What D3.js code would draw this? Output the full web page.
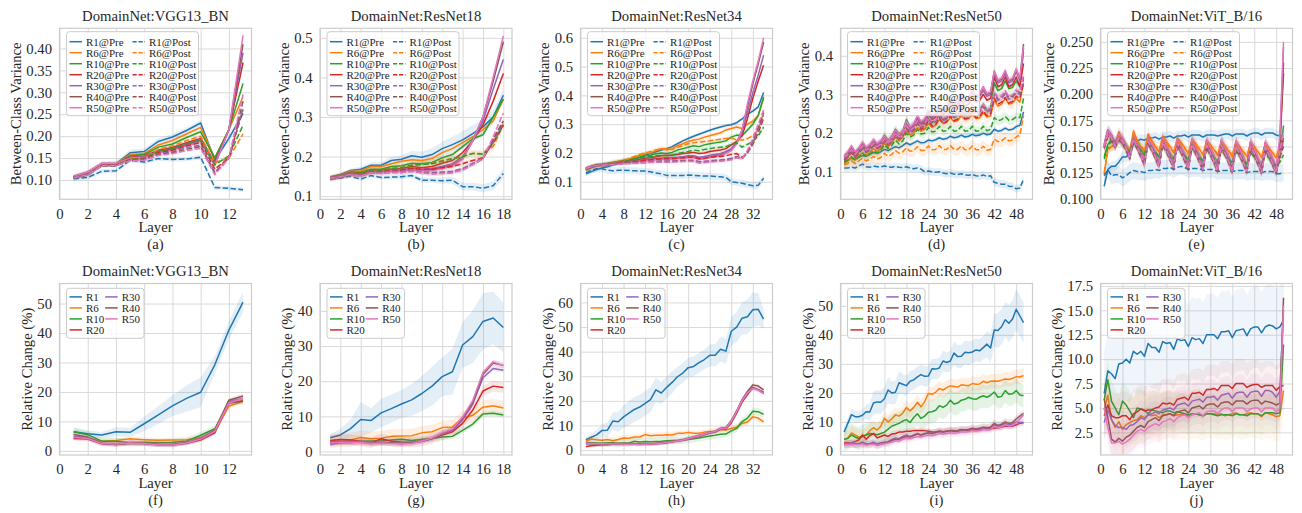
<!DOCTYPE html>
<html><head><meta charset="utf-8">
<script src="https://cdn.jsdelivr.net/npm/d3@7"></script>
<style>
body{margin:0;background:#fff}
svg{display:block}
</style>
</head><body>
<svg id="chart" width="1302" height="513"></svg>
<script>
// ---------- labels ----------
const rates = ["R1","R6","R10","R20","R30","R40","R50"];
const colors = ["#1f77b4","#ff7f0e","#2ca02c","#d62728","#9467bd","#8c564b","#e377c2"];
const models = ["VGG13_BN","ResNet18","ResNet34","ResNet50","ViT_B/16"];
const layerCounts = [13,18,34,50,50];
const subLetters = ["a","b","c","d","e","f","g","h","i","j"];
const topYLabel = "Between-Class Variance";
const botYLabel = "Relative Change (%)";
const xLabel = "Layer";

// ---------- axis ticks / limits ----------
const xTicks = [[0,2,4,6,8,10,12],[0,2,4,6,8,10,12,14,16,18],[0,4,8,12,16,20,24,28,32],[0,6,12,18,24,30,36,42,48],[0,6,12,18,24,30,36,42,48]];
const topYLim = [[0.056,0.446],[0.092,0.524],[0.039,0.633],[0.029,0.471],[0.0995,0.263]];
const topYTicks = [[0.10,0.15,0.20,0.25,0.30,0.35,0.40],[0.1,0.2,0.3,0.4,0.5],[0.1,0.2,0.3,0.4,0.5,0.6],[0.1,0.2,0.3,0.4],[0.100,0.125,0.150,0.175,0.200,0.225,0.250]];
const topYFmt = [".2f",".1f",".1f",".1f",".3f"];
const botYLim = [[-1.4,56.8],[-1.0,47.8],[-2.0,67.7],[-1.4,57.7],[0.18,17.75]];
const botYTicks = [[0,10,20,30,40,50],[0,10,20,30,40],[0,10,20,30,40,50,60],[0,10,20,30,40,50],[2.5,5.0,7.5,10.0,12.5,15.0,17.5]];
const botYFmt = ["d","d","d","d",".1f"];

// ---------- (a) VGG13_BN between-class variance ----------
const vggPre = [
[0.105,0.115,0.135,0.137,0.162,0.165,0.188,0.198,0.213,0.230,0.145,0.195,0.252],
[0.107,0.117,0.137,0.137,0.158,0.160,0.180,0.190,0.205,0.220,0.150,0.215,0.290],
[0.107,0.115,0.135,0.135,0.155,0.158,0.175,0.182,0.197,0.210,0.150,0.215,0.320],
[0.107,0.116,0.136,0.136,0.152,0.155,0.168,0.174,0.185,0.195,0.140,0.215,0.368],
[0.108,0.117,0.137,0.137,0.150,0.153,0.165,0.172,0.182,0.192,0.138,0.215,0.390],
[0.108,0.118,0.137,0.137,0.150,0.152,0.165,0.170,0.180,0.190,0.135,0.215,0.410],
[0.108,0.118,0.138,0.138,0.150,0.152,0.163,0.168,0.178,0.188,0.133,0.215,0.430]];
const vggPost = [
[0.103,0.106,0.120,0.121,0.145,0.141,0.149,0.147,0.148,0.152,0.083,0.081,0.078],
[0.105,0.112,0.133,0.133,0.148,0.150,0.170,0.178,0.190,0.200,0.140,0.150,0.205],
[0.105,0.112,0.133,0.133,0.147,0.150,0.165,0.172,0.183,0.190,0.135,0.155,0.225],
[0.105,0.112,0.133,0.133,0.146,0.148,0.162,0.168,0.178,0.185,0.125,0.150,0.260],
[0.105,0.112,0.133,0.133,0.145,0.147,0.160,0.164,0.174,0.180,0.118,0.150,0.265],
[0.105,0.112,0.133,0.133,0.145,0.146,0.158,0.162,0.170,0.176,0.115,0.150,0.280],
[0.105,0.112,0.133,0.133,0.144,0.145,0.156,0.160,0.167,0.172,0.112,0.150,0.295]];
const vggPreBand = [0.007,0.004,0.004,0.004,0.004,0.004,0.005];
const vggPostBand = [0.005,0.003,0.003,0.003,0.003,0.003,0.003];

// ---------- (b) ResNet18 ----------
const r18Pre = [
[0.148,0.155,0.165,0.168,0.178,0.178,0.190,0.193,0.202,0.198,0.205,0.220,0.230,0.242,0.258,0.275,0.300,0.355],
[0.147,0.153,0.163,0.163,0.175,0.175,0.182,0.188,0.192,0.190,0.195,0.210,0.220,0.235,0.250,0.268,0.290,0.345],
[0.146,0.152,0.160,0.160,0.168,0.168,0.175,0.177,0.183,0.182,0.185,0.197,0.205,0.225,0.245,0.255,0.300,0.345],
[0.146,0.150,0.158,0.157,0.165,0.165,0.168,0.170,0.175,0.172,0.175,0.183,0.190,0.210,0.240,0.280,0.340,0.410],
[0.145,0.150,0.157,0.155,0.163,0.163,0.166,0.167,0.170,0.168,0.170,0.175,0.182,0.200,0.240,0.290,0.370,0.445],
[0.145,0.150,0.156,0.154,0.162,0.162,0.165,0.165,0.168,0.166,0.167,0.172,0.178,0.195,0.240,0.300,0.390,0.490],
[0.145,0.150,0.156,0.153,0.162,0.162,0.164,0.164,0.167,0.165,0.165,0.170,0.176,0.193,0.240,0.300,0.400,0.505]];
const r18Post = [
[0.143,0.146,0.150,0.143,0.152,0.147,0.148,0.149,0.152,0.140,0.140,0.139,0.140,0.124,0.124,0.120,0.126,0.157],
[0.145,0.150,0.158,0.157,0.165,0.164,0.170,0.172,0.178,0.180,0.183,0.190,0.195,0.200,0.208,0.207,0.225,0.280],
[0.145,0.150,0.158,0.157,0.165,0.164,0.170,0.172,0.178,0.180,0.182,0.188,0.195,0.200,0.208,0.206,0.235,0.280],
[0.145,0.149,0.156,0.154,0.162,0.161,0.165,0.166,0.170,0.168,0.168,0.172,0.175,0.182,0.190,0.197,0.235,0.280],
[0.145,0.149,0.155,0.152,0.160,0.159,0.162,0.162,0.165,0.161,0.160,0.161,0.163,0.170,0.183,0.195,0.240,0.285],
[0.145,0.149,0.155,0.151,0.159,0.158,0.160,0.160,0.163,0.159,0.157,0.158,0.160,0.167,0.180,0.195,0.245,0.290],
[0.145,0.149,0.155,0.151,0.159,0.158,0.160,0.160,0.163,0.159,0.156,0.157,0.159,0.166,0.180,0.195,0.250,0.310]];
const r18PreBand = [[0.004,0.004,0.005,0.006,0.007,0.008,0.009,0.010,0.012,0.014,0.016,0.018,0.020,0.022,0.022,0.020,0.018,0.015],0.005,0.006,0.005,0.005,0.006,0.006];
const r18PostBand = [[0.004,0.004,0.004,0.005,0.005,0.005,0.006,0.006,0.006,0.007,0.007,0.008,0.009,0.010,0.010,0.010,0.011,0.012],0.010,0.006,0.006,0.005,0.005,0.006];

// ---------- (c) ResNet34 ----------
const r34Pre = [
[0.128,0.135,0.142,0.148,0.152,0.158,0.163,0.168,0.172,0.178,0.185,0.192,0.198,0.204,0.210,0.215,0.222,0.232,0.242,0.250,0.258,0.265,0.272,0.279,0.285,0.290,0.295,0.298,0.305,0.318,0.335,0.345,0.360,0.410],
[0.140,0.148,0.155,0.158,0.162,0.165,0.170,0.175,0.178,0.185,0.192,0.198,0.200,0.208,0.215,0.210,0.215,0.225,0.232,0.240,0.245,0.248,0.255,0.260,0.265,0.270,0.280,0.285,0.290,0.285,0.300,0.310,0.330,0.390],
[0.143,0.152,0.158,0.160,0.163,0.167,0.170,0.173,0.176,0.180,0.185,0.190,0.192,0.197,0.200,0.198,0.202,0.210,0.215,0.220,0.225,0.222,0.228,0.232,0.235,0.238,0.242,0.255,0.262,0.260,0.280,0.300,0.330,0.395],
[0.145,0.153,0.158,0.160,0.162,0.165,0.168,0.170,0.172,0.175,0.178,0.182,0.183,0.187,0.190,0.192,0.192,0.195,0.198,0.200,0.202,0.198,0.200,0.205,0.208,0.210,0.215,0.228,0.240,0.260,0.320,0.390,0.450,0.505],
[0.146,0.153,0.157,0.159,0.161,0.164,0.166,0.168,0.170,0.172,0.174,0.177,0.178,0.180,0.182,0.184,0.184,0.185,0.187,0.190,0.190,0.185,0.188,0.192,0.195,0.198,0.205,0.215,0.235,0.270,0.340,0.410,0.470,0.540],
[0.147,0.153,0.157,0.159,0.161,0.163,0.165,0.167,0.169,0.171,0.173,0.175,0.176,0.178,0.180,0.181,0.181,0.182,0.183,0.185,0.185,0.180,0.182,0.186,0.190,0.193,0.200,0.210,0.235,0.280,0.360,0.440,0.510,0.585],
[0.147,0.153,0.157,0.159,0.161,0.163,0.165,0.167,0.169,0.170,0.172,0.174,0.175,0.177,0.178,0.179,0.180,0.181,0.182,0.183,0.183,0.178,0.180,0.184,0.188,0.190,0.198,0.208,0.232,0.280,0.370,0.450,0.520,0.600]];
const r34Post = [
[0.130,0.140,0.145,0.145,0.140,0.138,0.140,0.140,0.139,0.138,0.137,0.137,0.135,0.130,0.128,0.122,0.122,0.122,0.122,0.123,0.122,0.121,0.120,0.120,0.118,0.117,0.115,0.100,0.097,0.095,0.090,0.086,0.088,0.112],
[0.140,0.148,0.155,0.158,0.162,0.165,0.170,0.175,0.180,0.188,0.195,0.200,0.205,0.210,0.215,0.215,0.212,0.220,0.225,0.232,0.235,0.238,0.240,0.242,0.245,0.248,0.250,0.252,0.245,0.245,0.250,0.260,0.280,0.340],
[0.142,0.150,0.156,0.158,0.160,0.164,0.167,0.170,0.173,0.177,0.182,0.186,0.188,0.190,0.192,0.190,0.192,0.198,0.202,0.205,0.210,0.208,0.212,0.215,0.218,0.220,0.222,0.230,0.235,0.220,0.230,0.240,0.260,0.290],
[0.145,0.152,0.157,0.158,0.160,0.162,0.165,0.167,0.168,0.170,0.172,0.175,0.176,0.178,0.180,0.180,0.180,0.182,0.183,0.185,0.186,0.180,0.182,0.185,0.187,0.188,0.190,0.195,0.198,0.185,0.200,0.230,0.270,0.320],
[0.146,0.152,0.156,0.157,0.159,0.161,0.163,0.164,0.165,0.166,0.167,0.169,0.170,0.171,0.172,0.172,0.172,0.173,0.174,0.175,0.175,0.170,0.171,0.173,0.175,0.176,0.178,0.182,0.188,0.180,0.200,0.235,0.280,0.330],
[0.146,0.152,0.156,0.157,0.159,0.160,0.162,0.163,0.164,0.165,0.166,0.167,0.168,0.169,0.170,0.170,0.170,0.171,0.172,0.173,0.172,0.167,0.168,0.170,0.172,0.173,0.175,0.178,0.185,0.180,0.205,0.245,0.290,0.340],
[0.146,0.152,0.156,0.157,0.159,0.160,0.161,0.162,0.163,0.164,0.165,0.166,0.167,0.168,0.168,0.168,0.168,0.169,0.170,0.171,0.170,0.165,0.166,0.168,0.170,0.171,0.173,0.176,0.183,0.180,0.210,0.250,0.300,0.350]];
const r34PreBand = [0.006,0.008,0.009,0.006,0.006,0.006,0.008];
const r34PostBand = [0.012,0.006,0.008,0.005,0.005,0.005,0.006];

// ---------- (d) ResNet50 ----------
const r50Pre = [
[0.125,0.130,0.135,0.132,0.138,0.142,0.140,0.145,0.150,0.148,0.152,0.158,0.155,0.160,0.165,0.162,0.168,0.175,0.170,0.175,0.180,0.175,0.176,0.182,0.180,0.183,0.188,0.184,0.186,0.192,0.188,0.190,0.195,0.190,0.192,0.197,0.193,0.195,0.200,0.196,0.198,0.210,0.205,0.207,0.213,0.208,0.210,0.217,0.220,0.255],
[0.120,0.128,0.138,0.130,0.140,0.150,0.142,0.150,0.160,0.152,0.160,0.175,0.165,0.175,0.190,0.180,0.190,0.205,0.195,0.200,0.215,0.205,0.210,0.225,0.215,0.220,0.235,0.225,0.228,0.240,0.230,0.232,0.245,0.235,0.237,0.248,0.238,0.240,0.252,0.242,0.245,0.285,0.270,0.275,0.290,0.275,0.278,0.290,0.280,0.330],
[0.130,0.140,0.152,0.140,0.152,0.165,0.155,0.162,0.175,0.165,0.175,0.195,0.182,0.190,0.210,0.198,0.205,0.235,0.215,0.220,0.238,0.222,0.225,0.242,0.228,0.232,0.250,0.235,0.240,0.260,0.245,0.248,0.265,0.250,0.252,0.270,0.255,0.258,0.275,0.260,0.262,0.330,0.310,0.315,0.335,0.315,0.318,0.335,0.320,0.420],
[0.135,0.145,0.158,0.145,0.155,0.170,0.158,0.165,0.178,0.168,0.175,0.190,0.178,0.187,0.205,0.192,0.200,0.225,0.210,0.218,0.238,0.222,0.228,0.250,0.235,0.242,0.262,0.248,0.255,0.275,0.260,0.265,0.285,0.270,0.275,0.295,0.280,0.285,0.300,0.285,0.290,0.345,0.320,0.325,0.345,0.320,0.325,0.345,0.320,0.380],
[0.138,0.148,0.162,0.148,0.158,0.172,0.160,0.167,0.180,0.170,0.177,0.190,0.178,0.188,0.205,0.193,0.202,0.225,0.212,0.220,0.240,0.225,0.232,0.255,0.240,0.248,0.270,0.255,0.262,0.285,0.270,0.275,0.295,0.280,0.285,0.305,0.290,0.295,0.310,0.295,0.300,0.355,0.330,0.335,0.355,0.330,0.335,0.360,0.335,0.410],
[0.140,0.150,0.165,0.150,0.160,0.175,0.162,0.168,0.182,0.172,0.178,0.192,0.180,0.190,0.207,0.195,0.204,0.228,0.215,0.222,0.243,0.228,0.235,0.258,0.243,0.250,0.273,0.258,0.265,0.290,0.273,0.278,0.300,0.285,0.290,0.310,0.295,0.300,0.318,0.300,0.305,0.360,0.335,0.340,0.360,0.335,0.340,0.365,0.340,0.430],
[0.142,0.152,0.167,0.152,0.162,0.177,0.163,0.170,0.183,0.173,0.180,0.193,0.180,0.190,0.208,0.196,0.205,0.230,0.216,0.224,0.245,0.230,0.237,0.260,0.245,0.252,0.275,0.260,0.267,0.292,0.275,0.280,0.302,0.287,0.292,0.312,0.297,0.302,0.320,0.302,0.307,0.360,0.337,0.342,0.362,0.337,0.342,0.365,0.342,0.425]];
const r50Post = [
[0.110,0.110,0.112,0.110,0.115,0.120,0.113,0.112,0.115,0.113,0.113,0.115,0.113,0.112,0.114,0.112,0.111,0.113,0.110,0.108,0.110,0.107,0.100,0.102,0.100,0.099,0.100,0.097,0.095,0.097,0.094,0.093,0.095,0.092,0.091,0.093,0.090,0.089,0.092,0.088,0.090,0.073,0.070,0.068,0.068,0.063,0.062,0.056,0.058,0.080],
[0.118,0.122,0.128,0.122,0.128,0.135,0.128,0.132,0.140,0.133,0.137,0.148,0.140,0.145,0.155,0.148,0.152,0.162,0.153,0.155,0.165,0.155,0.156,0.167,0.157,0.158,0.168,0.158,0.158,0.168,0.158,0.158,0.167,0.157,0.157,0.167,0.157,0.157,0.166,0.156,0.158,0.185,0.178,0.180,0.188,0.180,0.182,0.190,0.195,0.245],
[0.125,0.130,0.138,0.130,0.138,0.148,0.140,0.145,0.155,0.148,0.155,0.170,0.160,0.168,0.182,0.172,0.180,0.200,0.190,0.195,0.210,0.198,0.200,0.215,0.203,0.205,0.218,0.205,0.206,0.218,0.205,0.206,0.218,0.205,0.206,0.218,0.205,0.206,0.218,0.206,0.210,0.240,0.232,0.235,0.243,0.233,0.235,0.242,0.240,0.290],
[0.130,0.138,0.150,0.138,0.148,0.160,0.150,0.156,0.168,0.160,0.166,0.180,0.170,0.178,0.195,0.185,0.192,0.212,0.200,0.207,0.225,0.210,0.215,0.232,0.218,0.222,0.240,0.225,0.230,0.245,0.232,0.236,0.250,0.237,0.240,0.255,0.240,0.243,0.258,0.245,0.250,0.290,0.275,0.280,0.292,0.278,0.282,0.295,0.290,0.330],
[0.133,0.141,0.153,0.141,0.151,0.163,0.152,0.158,0.170,0.162,0.168,0.182,0.172,0.180,0.197,0.187,0.194,0.215,0.203,0.210,0.228,0.214,0.220,0.238,0.224,0.229,0.247,0.232,0.237,0.254,0.240,0.244,0.260,0.246,0.250,0.265,0.250,0.254,0.268,0.254,0.260,0.300,0.285,0.290,0.302,0.288,0.292,0.305,0.300,0.340],
[0.135,0.143,0.155,0.143,0.153,0.165,0.154,0.160,0.172,0.163,0.169,0.183,0.173,0.181,0.198,0.188,0.195,0.217,0.205,0.212,0.230,0.216,0.222,0.241,0.227,0.232,0.250,0.236,0.241,0.258,0.244,0.248,0.264,0.250,0.254,0.270,0.255,0.259,0.273,0.258,0.264,0.305,0.290,0.295,0.307,0.292,0.296,0.310,0.305,0.345],
[0.137,0.145,0.157,0.145,0.155,0.167,0.156,0.162,0.174,0.165,0.171,0.185,0.175,0.183,0.200,0.190,0.197,0.219,0.207,0.214,0.232,0.218,0.224,0.243,0.229,0.234,0.252,0.238,0.243,0.260,0.246,0.250,0.266,0.252,0.256,0.272,0.257,0.261,0.275,0.260,0.266,0.308,0.292,0.297,0.310,0.295,0.299,0.312,0.307,0.350]];
const r50PreBand = [0.006,0.014,0.012,0.008,0.008,0.008,0.009];
const r50PostBand = [0.010,0.016,0.012,0.008,0.008,0.008,0.008];

// ---------- (e) ViT_B/16 ----------
const vitPre = [
[0.112,0.128,0.131,0.131,0.135,0.140,0.140,0.143,0.152,0.155,0.157,0.156,0.158,0.158,0.159,0.157,0.159,0.159,0.160,0.158,0.160,0.160,0.161,0.159,0.161,0.161,0.161,0.159,0.161,0.161,0.161,0.160,0.161,0.162,0.162,0.160,0.162,0.162,0.162,0.160,0.162,0.163,0.163,0.161,0.163,0.163,0.163,0.161,0.160,0.160],
[0.123,0.148,0.150,0.152,0.164,0.156,0.150,0.145,0.165,0.156,0.150,0.145,0.162,0.156,0.150,0.145,0.160,0.155,0.150,0.144,0.158,0.154,0.149,0.143,0.157,0.153,0.148,0.142,0.156,0.152,0.147,0.141,0.155,0.151,0.146,0.140,0.155,0.150,0.145,0.140,0.154,0.150,0.145,0.139,0.153,0.149,0.144,0.139,0.145,0.155],
[0.140,0.152,0.157,0.155,0.158,0.155,0.150,0.146,0.158,0.152,0.147,0.142,0.155,0.150,0.145,0.140,0.153,0.148,0.143,0.138,0.152,0.147,0.142,0.137,0.151,0.146,0.141,0.136,0.150,0.145,0.140,0.135,0.149,0.144,0.139,0.134,0.148,0.143,0.138,0.133,0.147,0.142,0.137,0.132,0.146,0.141,0.136,0.131,0.140,0.170],
[0.150,0.163,0.160,0.153,0.160,0.157,0.150,0.142,0.159,0.152,0.144,0.136,0.157,0.151,0.143,0.135,0.157,0.150,0.142,0.134,0.156,0.149,0.141,0.133,0.156,0.149,0.140,0.132,0.155,0.148,0.140,0.131,0.155,0.148,0.139,0.130,0.154,0.147,0.139,0.130,0.154,0.147,0.138,0.129,0.153,0.146,0.138,0.128,0.150,0.220],
[0.152,0.166,0.161,0.153,0.161,0.158,0.151,0.143,0.160,0.153,0.145,0.137,0.158,0.152,0.144,0.136,0.158,0.151,0.143,0.135,0.157,0.150,0.142,0.134,0.157,0.150,0.141,0.133,0.156,0.149,0.141,0.132,0.156,0.149,0.140,0.131,0.155,0.148,0.140,0.131,0.155,0.148,0.139,0.130,0.154,0.147,0.139,0.129,0.155,0.245],
[0.151,0.165,0.160,0.152,0.160,0.157,0.150,0.142,0.159,0.152,0.144,0.136,0.157,0.151,0.143,0.135,0.157,0.150,0.142,0.134,0.156,0.149,0.141,0.133,0.156,0.149,0.140,0.132,0.155,0.148,0.140,0.131,0.155,0.148,0.139,0.130,0.154,0.147,0.139,0.130,0.154,0.147,0.138,0.129,0.153,0.146,0.138,0.128,0.152,0.230],
[0.152,0.165,0.160,0.152,0.162,0.158,0.150,0.142,0.160,0.152,0.145,0.137,0.158,0.152,0.145,0.136,0.158,0.151,0.144,0.135,0.157,0.150,0.143,0.134,0.157,0.150,0.142,0.133,0.156,0.149,0.141,0.132,0.156,0.149,0.141,0.132,0.155,0.148,0.140,0.131,0.155,0.148,0.140,0.131,0.154,0.147,0.139,0.130,0.160,0.250]];
const vitPost = [
[0.122,0.128,0.122,0.123,0.123,0.120,0.122,0.125,0.127,0.126,0.126,0.125,0.127,0.127,0.128,0.127,0.129,0.129,0.130,0.128,0.130,0.131,0.130,0.128,0.129,0.129,0.129,0.127,0.128,0.128,0.128,0.126,0.127,0.127,0.127,0.126,0.127,0.127,0.127,0.125,0.126,0.126,0.126,0.125,0.126,0.126,0.126,0.124,0.124,0.125],
[0.125,0.146,0.150,0.150,0.160,0.155,0.150,0.147,0.160,0.155,0.151,0.147,0.157,0.154,0.150,0.146,0.156,0.153,0.149,0.145,0.155,0.152,0.148,0.144,0.154,0.151,0.147,0.143,0.153,0.150,0.147,0.143,0.152,0.149,0.146,0.142,0.151,0.148,0.145,0.142,0.150,0.148,0.145,0.141,0.150,0.147,0.144,0.141,0.148,0.158],
[0.138,0.150,0.155,0.153,0.156,0.153,0.149,0.145,0.155,0.150,0.146,0.142,0.152,0.148,0.144,0.140,0.150,0.146,0.142,0.138,0.149,0.145,0.141,0.137,0.148,0.144,0.140,0.136,0.147,0.143,0.139,0.135,0.146,0.142,0.138,0.134,0.145,0.141,0.137,0.133,0.144,0.140,0.136,0.132,0.143,0.139,0.135,0.131,0.135,0.142],
[0.148,0.160,0.157,0.150,0.157,0.154,0.147,0.139,0.156,0.149,0.141,0.133,0.154,0.147,0.139,0.131,0.153,0.146,0.138,0.130,0.152,0.145,0.137,0.129,0.151,0.144,0.136,0.128,0.150,0.143,0.135,0.127,0.150,0.143,0.135,0.126,0.149,0.142,0.134,0.126,0.149,0.142,0.134,0.125,0.148,0.141,0.133,0.125,0.140,0.150],
[0.149,0.161,0.158,0.151,0.158,0.155,0.148,0.140,0.157,0.150,0.142,0.134,0.155,0.148,0.140,0.132,0.154,0.147,0.139,0.131,0.153,0.146,0.138,0.130,0.152,0.145,0.137,0.129,0.151,0.144,0.136,0.128,0.151,0.144,0.136,0.127,0.150,0.143,0.135,0.127,0.150,0.143,0.135,0.126,0.149,0.142,0.134,0.126,0.142,0.155],
[0.149,0.160,0.156,0.149,0.156,0.153,0.146,0.138,0.155,0.148,0.140,0.132,0.153,0.146,0.138,0.130,0.152,0.145,0.137,0.129,0.151,0.144,0.136,0.128,0.150,0.143,0.135,0.127,0.149,0.142,0.134,0.126,0.149,0.142,0.134,0.125,0.148,0.141,0.133,0.125,0.148,0.141,0.133,0.124,0.147,0.140,0.132,0.124,0.142,0.160],
[0.150,0.162,0.158,0.150,0.158,0.155,0.148,0.140,0.157,0.150,0.142,0.133,0.155,0.148,0.140,0.131,0.154,0.147,0.139,0.130,0.153,0.146,0.138,0.129,0.152,0.145,0.137,0.128,0.151,0.144,0.136,0.127,0.151,0.144,0.136,0.126,0.150,0.143,0.135,0.126,0.150,0.143,0.135,0.125,0.149,0.142,0.134,0.125,0.145,0.165]];
const vitPreBand = [0.005,0.005,0.005,0.004,0.005,0.005,0.006];
const vitPostBand = [0.008,0.004,0.004,0.004,0.004,0.004,0.004];

// ---------- (f)-(j) relative change (%) ----------
const vggRel = [
[6.5,5.8,5.4,6.5,6.3,9.2,12.2,15.3,17.8,19.9,29.2,41.0,50.5],
[4.5,4.3,3.3,3.5,4.1,3.8,3.6,3.7,3.8,4.5,6.5,15.2,16.8],
[6.5,5.5,3.3,3.3,2.8,2.8,2.8,2.9,3.3,5.3,7.5,16.2,17.0],
[4.2,4.0,2.4,2.2,2.6,2.5,2.1,2.0,2.6,3.7,6.1,16.5,16.8],
[5.0,4.5,2.6,2.4,2.7,2.5,2.2,2.2,2.8,4.2,6.7,16.8,17.8],
[5.6,4.6,2.6,2.2,2.7,2.6,2.2,2.2,2.8,4.2,7.0,17.2,18.6],
[4.6,4.2,2.5,2.3,2.7,2.5,2.0,2.0,2.7,4.0,6.7,16.3,17.8]];
const vggRelBand = [[1.5,1.2,1.0,1.5,1.5,2.5,3.0,3.5,4.5,5.0,3.0,3.0,3.5],0.8,1.2,0.8,0.8,0.8,0.8];
const r18Rel = [
[3.9,4.7,6.5,9.1,8.8,11.0,12.2,13.5,14.7,16.5,18.6,21.3,22.7,30.3,32.7,37.0,38.0,35.3],
[3.0,3.3,3.3,4.0,3.6,3.8,4.3,4.4,4.5,5.3,5.6,6.8,7.0,9.5,10.3,12.6,13.0,12.4],
[2.6,2.8,3.0,2.9,3.0,3.0,3.3,3.5,3.1,3.4,3.7,4.1,4.3,6.0,7.8,10.7,10.9,10.4],
[3.1,3.4,3.3,2.9,2.5,3.6,2.9,2.7,2.6,2.9,3.7,4.7,5.6,8.0,11.8,17.2,18.6,18.2],
[2.0,2.5,2.5,2.8,2.6,2.3,2.4,2.3,2.5,2.9,3.6,5.0,6.0,9.0,13.5,21.0,23.6,23.1],
[2.5,2.7,2.7,2.7,2.3,2.5,2.5,2.3,2.4,3.0,3.7,5.2,6.2,9.5,14.0,22.0,25.2,24.5],
[2.4,2.6,2.6,2.6,2.3,2.4,2.3,2.2,2.3,3.0,3.8,5.3,6.4,9.8,14.5,22.5,25.5,24.4]];
const r18RelBand = [[1.0,1.8,2.5,5.0,3.5,4.0,4.0,4.0,4.5,5.0,5.5,5.5,6.5,6.5,7.5,8.0,7.5,7.0],2.0,0.8,1.5,0.8,0.8,0.8];
const r34Rel = [
[4.2,5.2,6.2,8.0,8.1,11.8,11.5,13.5,15.0,16.5,17.5,19.0,20.5,24.5,23.2,25.5,27.5,29.8,31.3,33.5,34.0,35.5,36.8,38.5,38.5,41.0,40.2,48.3,50.0,53.6,54.2,57.0,57.2,53.2],
[3.6,4.5,4.2,4.0,4.3,3.8,4.3,4.9,4.8,5.3,5.3,6.3,5.8,6.0,6.0,6.2,6.1,6.8,6.8,7.2,6.8,6.8,7.3,7.6,7.7,8.4,8.2,8.8,9.3,10.8,11.4,13.5,13.0,11.5],
[3.0,3.0,2.9,2.8,3.0,3.0,2.8,2.9,2.9,3.6,3.3,3.5,3.4,3.5,3.6,3.8,3.9,3.9,4.0,4.3,4.6,4.9,5.3,5.7,6.0,6.4,6.5,7.8,8.8,11.6,13.0,15.8,15.6,14.5],
[1.4,1.8,2.0,2.2,2.2,2.4,2.5,2.5,2.5,2.5,2.4,2.5,2.5,2.7,2.8,3.0,3.4,3.7,4.0,4.6,5.0,5.6,6.2,6.9,7.3,8.4,8.6,11.0,15.0,19.5,22.5,25.5,24.5,23.5],
[2.9,2.7,2.6,2.6,2.6,2.6,2.5,2.5,2.5,2.5,2.4,2.5,2.5,2.6,2.8,3.1,3.4,3.7,4.0,4.6,5.1,5.7,6.3,7.0,7.4,8.6,8.8,11.5,15.5,20.0,23.0,25.0,24.6,23.0],
[2.6,2.6,2.6,2.6,2.6,2.6,2.5,2.5,2.5,2.5,2.4,2.5,2.6,2.7,2.9,3.2,3.5,3.8,4.2,4.8,5.3,5.9,6.5,7.2,7.7,8.9,9.2,12.0,16.0,20.5,23.8,26.5,26.0,24.5],
[2.7,2.7,2.6,2.6,2.6,2.5,2.5,2.4,2.4,2.4,2.3,2.4,2.5,2.6,2.8,3.1,3.4,3.7,4.1,4.7,5.2,5.8,6.4,7.1,7.6,8.7,9.0,11.7,15.7,20.2,23.3,25.0,24.3,23.0]];
const r34RelBand = [[1.0,1.5,2.0,2.5,3.0,3.5,4.0,4.5,5.0,5.0,5.0,5.0,5.0,5.0,4.5,4.5,4.5,4.0,4.0,4.0,4.0,4.0,4.0,4.5,4.5,5.0,5.0,6.0,6.0,6.5,7.0,7.0,6.5,4.0],1.2,1.5,0.7,0.7,0.7,0.7];
const r50Rel = [
[6.5,9.5,12.5,11.8,11.8,12.3,13.5,13.4,16.5,16.9,16.8,18.0,21.0,20.0,20.2,23.5,23.0,22.5,24.0,24.5,25.5,26.3,25.7,25.8,28.3,28.2,28.6,31.0,30.5,31.0,33.7,32.5,32.6,34.0,33.8,34.1,34.8,34.5,35.6,36.8,35.5,41.7,41.5,42.8,45.2,44.0,45.5,48.8,46.5,44.2],
[4.0,4.5,6.2,5.5,4.8,5.0,5.5,7.0,8.0,7.2,8.5,11.3,10.0,11.0,12.5,12.0,13.0,15.0,13.8,15.0,16.8,15.2,17.0,19.8,19.5,20.2,21.5,21.0,21.8,22.4,22.2,22.0,22.8,22.6,22.5,23.2,23.0,23.1,24.0,23.5,24.0,24.1,24.0,24.4,24.8,24.6,25.0,25.6,25.5,26.0],
[4.0,4.3,5.5,4.8,4.2,5.0,5.5,6.0,5.8,5.6,6.0,6.5,7.5,8.5,9.0,9.5,10.3,10.8,9.8,11.5,12.8,11.2,12.0,13.3,13.5,14.0,15.6,15.0,15.8,17.5,16.2,16.5,17.5,17.8,18.5,18.0,17.8,18.5,19.0,18.5,19.2,20.3,18.5,18.8,20.8,19.5,19.7,20.8,19.3,19.0],
[2.8,2.7,2.8,3.2,3.8,5.5,4.0,5.3,6.0,4.5,5.0,5.5,5.0,5.8,6.0,6.5,6.5,6.8,6.8,7.0,7.0,7.0,7.0,6.8,6.5,6.6,6.8,6.6,6.8,7.0,7.0,6.8,7.0,7.2,7.0,7.2,7.4,7.2,7.5,7.8,7.6,7.8,8.0,8.2,8.5,8.6,8.5,9.0,9.5,9.7],
[2.5,2.5,2.8,2.5,2.5,3.0,2.5,2.6,3.0,2.4,2.8,3.0,3.2,4.0,4.5,4.2,5.0,5.5,5.0,5.5,6.0,5.5,6.0,6.2,6.0,6.3,6.7,6.5,6.7,7.0,6.8,7.0,7.3,7.2,7.4,7.6,7.5,7.7,8.0,7.8,8.0,9.0,8.5,8.8,9.5,9.0,9.3,10.0,9.8,9.8],
[2.2,2.3,2.4,2.3,2.4,2.8,2.2,2.3,2.6,2.0,2.3,2.8,3.0,3.6,4.0,4.0,4.6,5.0,4.8,5.3,5.8,5.5,5.9,6.2,6.0,6.4,6.8,6.6,6.8,7.0,6.8,7.0,7.4,7.2,7.4,7.8,7.5,7.8,8.2,8.0,8.2,9.5,8.8,9.2,10.0,9.5,9.8,11.0,12.0,13.0],
[2.3,2.2,2.3,2.2,2.2,2.5,2.0,2.2,2.4,2.0,2.2,2.5,2.7,3.0,3.5,3.4,4.0,4.4,4.2,4.6,5.0,4.8,5.2,5.5,5.3,5.6,6.0,5.8,6.0,6.3,6.1,6.3,6.6,6.5,6.7,7.0,6.8,7.0,7.4,7.2,7.4,8.5,8.0,8.3,9.0,8.6,8.8,9.8,11.0,12.5]];
const r50RelBand = [[2,2,2,2,2,2,2.5,3,4,4,4,4,4.5,4,4,4,3.5,3.5,3.5,3.5,3.5,3.5,3.5,3.5,3.5,3.5,3.5,3.5,3.5,3.5,4,4,4,4,4,4,4,4,4,4.5,5,5.5,6,6,6,6.5,6.5,7,7,7],2.5,4.0,1.0,1.3,1.3,1.3];
const vitRel = [
[6.5,8.8,8.5,8.0,9.5,9.6,10.0,9.6,10.8,10.5,10.8,10.3,11.6,11.2,11.2,10.7,11.8,11.6,11.7,11.0,12.1,11.9,12.0,11.3,12.2,12.0,12.1,11.6,12.5,12.5,12.5,12.1,12.8,12.8,12.9,12.2,12.9,13.0,13.1,12.4,13.1,13.3,13.3,12.7,13.3,13.5,13.4,13.1,13.3,14.0],
[4.8,6.3,3.8,3.0,3.6,2.8,3.3,3.5,3.7,3.8,4.2,4.0,4.3,4.2,4.3,4.0,4.3,4.3,4.4,4.2,4.3,4.3,4.3,4.2,4.3,4.4,4.3,4.2,4.4,4.4,4.4,4.3,4.4,4.2,4.3,4.4,4.5,4.3,4.3,4.4,4.5,4.4,4.4,4.1,4.5,4.4,4.3,4.1,4.2,6.8],
[5.8,7.9,5.7,5.0,4.3,5.7,5.3,4.7,4.0,5.0,4.9,4.8,4.4,4.8,4.7,4.6,4.5,4.7,4.7,4.5,4.6,4.5,4.4,4.3,4.4,4.4,4.3,4.2,4.4,4.4,4.3,4.2,4.3,4.3,4.3,4.2,4.4,4.3,4.3,4.2,4.4,4.4,4.4,4.2,4.5,4.5,4.5,4.4,4.5,11.5],
[4.2,5.3,4.2,4.0,4.0,4.2,4.2,3.8,4.4,4.6,4.9,4.7,4.8,4.8,5.0,5.1,5.5,5.4,5.5,5.3,5.9,6.0,6.1,5.8,6.5,6.5,6.6,6.3,6.9,6.9,7.0,6.8,7.3,7.3,7.3,7.0,7.5,7.5,7.5,7.1,7.3,7.4,7.4,7.1,7.3,7.3,7.3,6.8,7.2,7.3],
[3.5,4.8,3.8,3.2,3.0,3.0,2.8,3.2,3.3,3.6,4.0,3.8,4.3,4.4,4.6,4.4,4.8,4.9,5.0,4.8,5.3,5.4,5.5,5.2,5.7,5.8,5.9,5.6,6.1,6.1,6.2,5.8,6.3,6.4,6.5,6.0,6.5,6.6,6.6,6.1,6.6,6.7,6.7,6.2,6.8,6.8,6.6,6.1,6.7,15.0],
[5.9,4.0,1.8,1.5,1.9,1.6,2.0,2.2,2.6,3.0,3.2,3.0,3.6,3.8,4.0,3.7,4.2,4.3,4.4,4.2,4.6,4.7,4.8,4.5,5.0,5.1,5.2,4.9,5.3,5.4,5.4,5.1,5.5,5.6,5.6,5.3,5.7,5.7,5.7,5.4,5.7,5.8,5.8,5.4,5.7,5.6,5.5,5.3,5.5,16.3],
[5.0,3.0,1.4,1.4,1.6,1.3,1.5,1.8,2.2,2.6,2.8,2.6,3.0,3.2,3.4,3.2,3.6,3.7,3.9,3.6,4.0,4.2,4.3,4.0,4.3,4.4,4.5,4.2,4.6,4.7,4.7,4.4,4.8,5.0,5.0,4.6,5.0,5.0,5.0,4.6,4.9,5.0,5.0,4.6,5.0,5.0,5.0,4.6,5.0,15.5]];
const vitRelBand = [4.2,2.5,2.0,2.5,1.8,1.8,1.8];

// ---------- layout ----------
const FONT = "Liberation Serif";
const TXT = "#262626";
const svg = d3.select("#chart").attr("font-family", FONT);
const AX_W = 192;
const colLefts = [59.5, 320.0, 580.5, 840.5, 1100.5];
const rowTops = [28.3, 283.5];
const rowHeights = [171, 171.5];
const FS = 14.7, LFS = 11;

function bandAt(b, i){ return Array.isArray(b) ? b[i] : b; }
function addText(sel, x, y, str, size, anchor){
  return sel.append("text").attr("x", x).attr("y", y).attr("font-family", FONT)
    .attr("font-size", size).attr("fill", TXT).attr("text-anchor", anchor || "start").text(str);
}

function drawPanel(cfg){
  const L = colLefts[cfg.col], T = rowTops[cfg.row], H = rowHeights[cfg.row];
  const g = svg.append("g");
  const x = d3.scaleLinear().domain([0, cfg.n + 0.05*(cfg.n-1)]).range([L, L+AX_W]);
  const y = d3.scaleLinear().domain(cfg.ylim).range([T+H, T]);
  const xa = g.append("g").attr("transform",`translate(0,${T+H})`)
    .call(d3.axisBottom(x).tickValues(cfg.xticks).tickFormat(d3.format("d")).tickSize(-H).tickPadding(9));
  const ya = g.append("g").attr("transform",`translate(${L},0)`)
    .call(d3.axisLeft(y).tickValues(cfg.yticks).tickFormat(d3.format(cfg.yfmt)).tickSize(-AX_W).tickPadding(7.5));
  [xa, ya].forEach(a => {
    a.attr("font-family", FONT).attr("font-size", FS).attr("color", TXT);
    a.select(".domain").remove();
    a.selectAll(".tick line").attr("stroke","#dadada").attr("stroke-width",1);
    a.selectAll(".tick text").attr("font-family", FONT).attr("font-size", FS).attr("fill", TXT);
  });
  const clipId = "clip" + cfg.id;
  g.append("clipPath").attr("id", clipId).append("rect")
    .attr("x", L).attr("y", T).attr("width", AX_W).attr("height", H);
  const plot = g.append("g").attr("clip-path", `url(#${clipId})`);
  cfg.series.forEach(s => {
    const pts = s.values.map((v,i) => ({layer: i+1, v: v, b: bandAt(s.band, i)}));
    plot.append("path").datum(pts)
      .attr("fill", s.color).attr("fill-opacity", cfg.bandOpacity).attr("stroke","none")
      .attr("d", d3.area().x(d => x(d.layer)).y0(d => y(d.v - d.b)).y1(d => y(d.v + d.b)));
    plot.append("path").datum(pts)
      .attr("fill","none").attr("stroke", s.color).attr("stroke-width", 1.5)
      .attr("stroke-linejoin","round")
      .attr("stroke-dasharray", s.dashed ? "5.5,2.4" : null)
      .attr("d", d3.line().x(d => x(d.layer)).y(d => y(d.v)));
  });
  g.append("rect").attr("x", L).attr("y", T).attr("width", AX_W).attr("height", H)
    .attr("fill","none").attr("stroke","#cccccc").attr("stroke-width",1.2);
  addText(g, L + AX_W/2, T - 7.6, "DomainNet:" + cfg.model, FS, "middle");
  addText(g, L + AX_W/2, T + H + 33, xLabel, FS, "middle");
  addText(g, L + AX_W/2, T + H + 50, "(" + cfg.letter + ")", FS, "middle");
  let maxW = 0;
  ya.selectAll(".tick text").each(function(){ maxW = Math.max(maxW, this.getComputedTextLength()); });
  const lx = L - 7.5 - maxW - 5.5;
  addText(g, 0, 0, cfg.ylabel, FS, "middle").attr("transform", `translate(${lx},${T + H/2}) rotate(-90)`);
  // legend
  const lg = cfg.legend;
  const nRows = Math.ceil(lg.entries.length / 2);
  const bx = L + 7, by = T + lg.dy;
  g.append("rect").attr("x", bx).attr("y", by).attr("width", lg.w).attr("height", lg.h)
    .attr("rx", 3).attr("fill","#ffffff").attr("fill-opacity",0.8)
    .attr("stroke","#cccccc").attr("stroke-width",1);
  lg.entries.forEach((e, k) => {
    const c = Math.floor(k / nRows), r = k % nRows;
    const hx = L + 10 + c * lg.colOff, cy = T + 13.4 + r * 11;
    g.append("line").attr("x1", hx).attr("x2", hx + 12.5).attr("y1", cy).attr("y2", cy)
      .attr("stroke", e.color).attr("stroke-width", 1.5)
      .attr("stroke-dasharray", e.dashed ? "4.2,1.8" : null);
    addText(g, hx + 16.5, cy + 3.8, e.label, LFS);
  });
}

// ---------- build panel configs ----------
const topData = [[vggPre,vggPost,vggPreBand,vggPostBand],[r18Pre,r18Post,r18PreBand,r18PostBand],[r34Pre,r34Post,r34PreBand,r34PostBand],[r50Pre,r50Post,r50PreBand,r50PostBand],[vitPre,vitPost,vitPreBand,vitPostBand]];
const botData = [[vggRel,vggRelBand],[r18Rel,r18RelBand],[r34Rel,r34RelBand],[r50Rel,r50RelBand],[vitRel,vitRelBand]];

models.forEach((m, k) => {
  const [pre, post, preB, postB] = topData[k];
  const series = [];
  rates.forEach((r, i) => series.push({label: r + "@Pre", values: pre[i], band: preB[i], color: colors[i], dashed: false}));
  rates.forEach((r, i) => series.push({label: r + "@Post", values: post[i], band: postB[i], color: colors[i], dashed: true}));
  drawPanel({id: "t"+k, col: k, row: 0, model: m, n: layerCounts[k], letter: subLetters[k],
    ylim: topYLim[k], yticks: topYTicks[k], yfmt: topYFmt[k], xticks: xTicks[k], ylabel: topYLabel,
    series: series, bandOpacity: 0.12,
    legend: {entries: series, dy: 3.4, w: 132, h: 84, colOff: 63}});
});
models.forEach((m, k) => {
  const [rel, relB] = botData[k];
  const series = rates.map((r, i) => ({label: r, values: rel[i], band: relB[i], color: colors[i], dashed: false}));
  drawPanel({id: "b"+k, col: k, row: 1, model: m, n: layerCounts[k], letter: subLetters[k+5],
    ylim: botYLim[k], yticks: botYTicks[k], yfmt: botYFmt[k], xticks: xTicks[k], ylabel: botYLabel,
    series: series, bandOpacity: k === 4 ? 0.07 : 0.12,
    legend: {entries: series, dy: 4.8, w: 77.5, h: 50, colOff: 35.7}});
});
</script>
</body></html>
